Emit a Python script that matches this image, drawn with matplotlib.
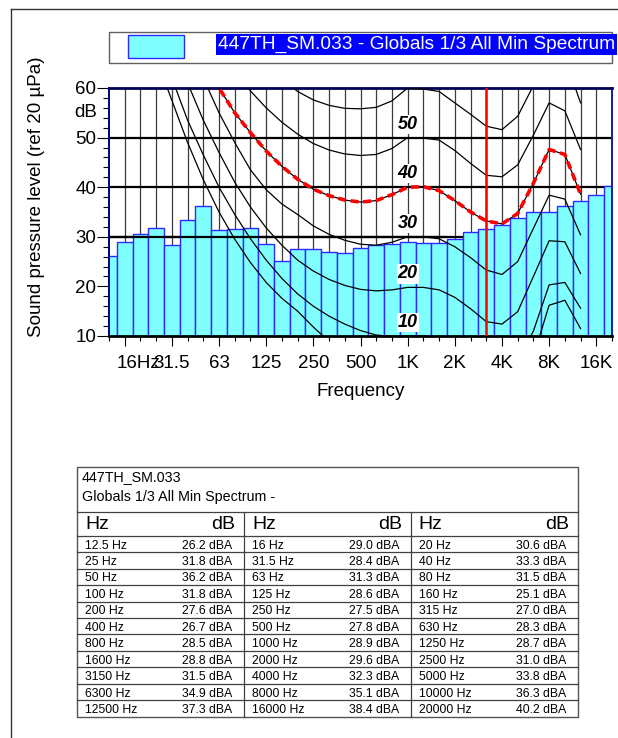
import matplotlib
matplotlib.use("Agg")
import matplotlib.pyplot as plt
import matplotlib.transforms as mtransforms
from matplotlib.patches import Rectangle
from matplotlib.lines import Line2D
import numpy as np

plt.rcParams['font.family'] = ['Liberation Sans', 'DejaVu Sans']

# ---------------- data ----------------
bands = ["12.5", "16", "20", "25", "31.5", "40", "50", "63", "80", "100", "125", "160",
         "200", "250", "315", "400", "500", "630", "800", "1000", "1250", "1600", "2000",
         "2500", "3150", "4000", "5000", "6300", "8000", "10000", "12500", "16000", "20000"]
levels = [26.2, 29.0, 30.6, 31.8, 28.4, 33.3, 36.2, 31.3, 31.5, 31.8, 28.6, 25.1,
          27.6, 27.5, 27.0, 26.7, 27.8, 28.3, 28.5, 28.9, 28.7, 28.8, 29.6,
          31.0, 31.5, 32.3, 33.8, 34.9, 35.1, 36.3, 37.3, 38.4, 40.2]

xtick_pos = [1, 4, 7, 10, 13, 16, 19, 22, 25, 28, 31]
xtick_labels = ["16Hz", "31.5", "63", "125", "250", "500", "1K", "2K", "4K", "8K", "16K"]
ytick_vals = [10, 20, 30, 40, 50, 60]

# reference curves, one value per band from 12.5 Hz to 12.5 kHz
threshold = [98, 87, 76, 66, 57.5, 49, 41.5, 35, 29.5, 24.8, 20.8, 17.6, 15, 11.8, 8.9, 6.5,
             4.6, 3.3, 2.6, 2.6, 3.4, 1.8, -1, -4, -5.8, -5.2, -1.5, 5.9, 16.2, 17.2, 11.5]
phon10 = [100, 90, 81, 72, 62, 53.5, 46.5, 40, 34.5, 29.6, 25.3, 21.6, 18.5, 16, 14, 12.4,
          11.1, 10.2, 9.9, 10, 10, 9.5, 7.8, 5.5, 3, 2.4, 5, 11, 20.3, 20.8, 15.6]
phon20 = [102, 93, 85, 78, 70, 61, 53.5, 47, 41, 36, 31.8, 28.3, 25.3, 23.1, 21.4, 20.2,
          19.4, 19.1, 19.3, 19.8, 19.8, 19.3, 17.8, 15.5, 12.9, 12.4, 14.9, 22, 29.2, 29, 22.6]
phon30 = [104, 96, 88, 82, 76, 69, 62, 55, 49, 43.5, 39.5, 36.6, 34.5, 32.2, 30.5, 29.3,
          28.5, 28.3, 28.9, 30, 30, 29.6, 28, 25.8, 23.3, 22.4, 25, 31.7, 38.4, 37.6, 30.4]
phon40 = [106, 99, 92, 86, 80, 72, 65.5, 60, 55, 51, 47.3, 44.2, 41.6, 39.6, 38.3, 37.4,
          37.0, 37.3, 38.5, 40, 40.1, 39.3, 37.3, 35, 33.2, 32.6, 34.7, 40.8, 47.6, 46.6, 38.6]
phon50 = [108, 102, 96, 90, 85, 80, 75, 68, 63.5, 59.4, 56, 53.1, 50.7, 48.8, 47.5, 46.7,
          46.4, 46.6, 47.8, 50, 49.9, 49.5, 47.4, 44.8, 42.4, 42.1, 44.5, 50.5, 57, 55.4, 47.6]
phon60 = [110, 105, 100, 95, 90, 86, 82, 78, 73, 69, 65, 61.8, 59.3, 57.6, 56.5, 55.9,
          55.8, 56.1, 57.4, 60, 59.8, 59.3, 57, 54.7, 52.3, 51.6, 54.3, 60.5, 67, 66, 57]
contours = [threshold, phon10, phon20, phon30, phon40, phon50, phon60]
contour_labels = [None, "10", "20", "30", "40", "50", None]
marker_band = "3150"
highlight = phon40

legend_text = "447TH_SM.033 - Globals 1/3 All Min Spectrum"
table_title = ["447TH_SM.033", "Globals 1/3 All Min Spectrum -"]

# ---------------- figure ----------------
W, H = 618, 738
fig = plt.figure(figsize=(W / 100, H / 100), dpi=100)


def fx(x):
    return x / W


def fy(y):
    return 1 - y / H


L, R, T, B = 109, 612, 88, 336
ax = fig.add_axes([fx(L), fy(B), (R - L) / W, (B - T) / H])
x = np.arange(len(bands))

# grid behind bars
ax.vlines(x[1:-1], 10, 60, color='#3c3c3c', lw=0.9, zorder=1)
ax.hlines([20, 30, 40, 50], 0, len(bands) - 1, color='black', lw=1.6, zorder=1)

ax.bar(x, levels, width=1.0, color='#80FFFF', edgecolor='#2a2aff', linewidth=1.0, zorder=2)

# line at 30 dB over the low-frequency bars
ax.hlines(30, 0, bands.index("1600") + 0.5, color='black', lw=1.6, zorder=3)

xc = np.arange(len(phon10))
for c in contours:
    ax.plot(xc, c, color='black', lw=0.9, zorder=4)
ax.plot(xc, highlight, color='#ff0000', lw=2.6, ls=(0, (2.2, 1.3)), zorder=5)

ax.axvline(bands.index(marker_band), color='#ff0000', lw=1.8, zorder=6)

ik = bands.index("1000")
for c, lab in zip(contours, contour_labels):
    if lab is None:
        continue
    ax.text(ik, c[ik] + 2.7, lab, ha='center', va='center', fontsize=13,
            fontweight='bold', fontstyle='italic', zorder=7,
            bbox=dict(facecolor='white', edgecolor='none', pad=0.8))

ax.set_xlim(0, len(bands) - 1)
ax.set_ylim(10, 60)

ax.set_xticks(xtick_pos, labels=xtick_labels)
ax.set_xticks(x, minor=True)
ax.set_yticks(ytick_vals, labels=[str(v) for v in ytick_vals])
ax.set_yticks(np.arange(10, 61, 2), minor=True)
ax.tick_params(axis='x', which='major', length=7.2, width=0.8, pad=6.5, labelsize=13.5)
ax.tick_params(axis='x', which='minor', length=3.6, width=0.8)
ax.tick_params(axis='y', which='major', length=8.6, width=0.8, pad=0.5, labelsize=13.5)
ax.tick_params(axis='y', which='minor', length=4.3, width=0.8)

# first tick label starts at the band edge
lbl0 = ax.get_xticklabels()[0]
lbl0.set_ha('left')
lbl0.set_transform(lbl0.get_transform() + mtransforms.ScaledTranslation(-8.5 / 100, 0, fig.dpi_scale_trans))

ax.annotate("dB", xy=(0, 55), xycoords=('axes fraction', 'data'), xytext=(-8.9, 0),
            textcoords='offset points', ha='right', va='center', fontsize=13.5)

for s, col, lw in [('top', '#00005a', 2.0), ('left', '#000080', 1.4),
                   ('right', '#1a1aa0', 1.4), ('bottom', 'black', 2.0)]:
    ax.spines[s].set_color(col)
    ax.spines[s].set_linewidth(lw)

ax.set_xlabel("Frequency", fontsize=13.5)
ax.xaxis.label.set_va('center')
ax.xaxis.set_label_coords(0.5, (B - 392) / (B - T))
ax.set_ylabel("Sound pressure level (ref 20 \u00b5Pa)", fontsize=13.5)
ax.yaxis.label.set_va('center')
ax.yaxis.set_label_coords((37 - L) / (R - L), (B - 197) / (B - T))

# page frame
fig.add_artist(Line2D([fx(11), 1], [fy(9), fy(9)], color='#333333', lw=1.0))
fig.add_artist(Line2D([fx(11), fx(11)], [fy(9), 0], color='#333333', lw=1.0))

# legend
fig.add_artist(Rectangle((fx(109), fy(63)), (612 - 109) / W, 31 / H, transform=fig.transFigure,
                         fill=False, edgecolor='#606060', lw=1.0))
fig.add_artist(Rectangle((fx(128), fy(58)), 56 / W, 23 / H, transform=fig.transFigure,
                         facecolor='#80FFFF', edgecolor='#2a2aff', lw=1.0))
fig.text(fx(615), fy(44.5), legend_text, ha='right', va='center', color='white', fontsize=13.8,
         bbox=dict(facecolor='#0000ff', edgecolor='none', pad=1.2))

# ---------------- table ----------------
tL, tR, tT, tB = 77.3, 578.0, 466.7, 716.7
hdr1, hdr2 = 512.3, 535.7
nrows = 11
rowh = (tB - hdr2) / nrows
colw = (tR - tL) / 3
lc = '#404040'

fig.add_artist(Rectangle((fx(tL), fy(tB)), (tR - tL) / W, (tB - tT) / H, transform=fig.transFigure,
                         fill=False, edgecolor='#555555', lw=1.0))
for yy in [hdr1, hdr2] + [hdr2 + k * rowh for k in range(1, nrows)]:
    fig.add_artist(Line2D([fx(tL), fx(tR)], [fy(yy), fy(yy)], color=lc, lw=0.9))
for k in (1, 2):
    xx = tL + k * colw
    fig.add_artist(Line2D([fx(xx), fx(xx)], [fy(hdr1), fy(tB)], color=lc, lw=0.9))

fig.text(fx(81.7), fy(476.7), table_title[0], ha='left', va='center', fontsize=10.3)
fig.text(fx(81.7), fy(496.7), table_title[1], ha='left', va='center', fontsize=10.3)

for k in range(3):
    c0 = tL + k * colw
    fig.text(fx(c0 + 7.7), fy(524.3), "Hz", ha='left', va='center', fontsize=14)
    fig.text(fx(c0 + colw - 8.8), fy(524.3), "dB", ha='right', va='center', fontsize=14)

for i, (b, v) in enumerate(zip(bands, levels)):
    r, k = divmod(i, 3)
    c0 = tL + k * colw
    yc = hdr2 + (r + 0.5) * rowh + 1.6
    fig.text(fx(c0 + 7.7), fy(yc), f"{b} Hz", ha='left', va='center', fontsize=8.8)
    fig.text(fx(c0 + colw - 12.2), fy(yc), f"{v:.1f} dBA", ha='right', va='center', fontsize=8.8)

fig.savefig("out.png", dpi=100)
